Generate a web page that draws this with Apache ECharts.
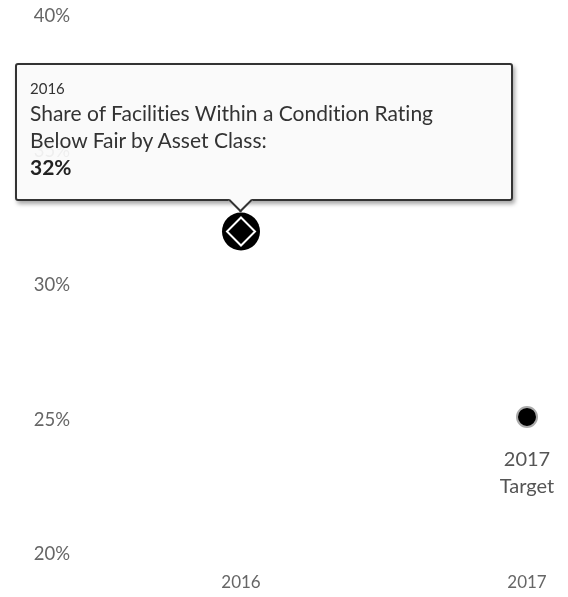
<!DOCTYPE html>
<html lang="en">
<head>
    <meta charset="UTF-8">
    <title>Facilities Condition</title>
    <script src="https://cdn.jsdelivr.net/npm/echarts@6/dist/echarts.min.js"></script>
    <style>
        html, body { margin: 0; padding: 0; background: #fff; }
        #chart_wrap { width: 568px; height: 597px; }
    </style>
</head>
<body>
<div id="chart_wrap"></div>
<script type="text/javascript">
// data
var years = ["2016", "2017"];
var shares = [32, 25.1];
var pointLabels = ["", "2017\nTarget"];
var yTicks = [20, 25, 30, 35, 40];
var seriesName = "Share of Facilities Within a Condition Rating\nBelow Fair by Asset Class:";
var tipIndex = 0;

var FONT = "Lato, 'Open Sans', sans-serif";

var chart = echarts.init(document.getElementById("chart_wrap"));

var mainData = shares.map(function (v, i) {
    if (i === tipIndex) {
        return { value: v, symbolSize: 38, itemStyle: { color: "#000", borderWidth: 0, opacity: 1 } };
    }
    return {
        value: v,
        symbolSize: 20,
        itemStyle: { color: "#000", borderColor: "#aaa", borderWidth: 2, opacity: 1 },
        label: { show: !!pointLabels[i], formatter: pointLabels[i] }
    };
});

// the diamond drawn inside the hovered point
var diamondData = shares.map(function (v, i) {
    return i === tipIndex ? v : null;
});

var option = {
    animation: false,
    grid: { left: 241, right: 41, top: 16.5, bottom: 43 },
    tooltip: {
        trigger: "item",
        triggerOn: "none",
        alwaysShowContent: true,
        transitionDuration: 0,
        backgroundColor: "rgba(250,250,250,0.92)",
        borderColor: "#333",
        borderWidth: 2,
        padding: [12, 13, 19, 13],
        extraCssText: "border-radius:3px;box-shadow:2px 3px 4px rgba(0,0,0,0.35);overflow:visible;font-variant-ligatures:none;",
        textStyle: { fontFamily: FONT, color: "#333" },
        position: function (point, params, dom, rect, size) {
            var pt = chart.convertToPixel({ seriesIndex: 0 }, [tipIndex, shares[tipIndex]]);
            return [pt[0] - 226, pt[1] - 30.5 - size.contentSize[1]];
        },
        formatter: function (p) {
            var name = seriesName.replace("\n", "<br/>");
            return '<div style="position:relative;width:468px;font-variant-ligatures:none;">' +
                '<div style="font-size:15px;line-height:22px;color:#333;">' + p.name + '</div>' +
                '<div style="font-size:21px;line-height:27px;color:#333;">' + name + '</div>' +
                '<div style="font-size:21px;line-height:27px;font-weight:bold;color:#222;">' + Math.round(p.value) + '%</div>' +
                '</div>' +
                '<div style="position:absolute;left:215px;bottom:-10px;width:17px;height:17px;box-sizing:border-box;' +
                'background:#fafafa;border-right:2px solid #333;border-bottom:2px solid #333;transform:rotate(45deg);"></div>';
        }
    },
    xAxis: {
        type: "category",
        data: years,
        boundaryGap: false,
        axisLine: { show: false },
        axisTick: { show: false },
        splitLine: { show: false },
        axisLabel: { margin: 20, fontFamily: FONT, fontSize: 17, color: "#666" }
    },
    yAxis: {
        type: "value",
        min: yTicks[0],
        max: yTicks[yTicks.length - 1],
        interval: 5,
        axisLine: { show: false },
        axisTick: { show: false },
        splitLine: { show: false },
        axisLabel: { margin: 171, fontFamily: FONT, fontSize: 18.5, color: "#666", formatter: "{value}%" }
    },
    series: [
        {
            name: seriesName,
            type: "scatter",
            data: mainData,
            symbol: "circle",
            label: {
                show: false,
                position: "bottom",
                distance: 18,
                fontFamily: FONT,
                fontSize: 20,
                lineHeight: 27,
                color: "#555",
                align: "center"
            },
            emphasis: { disabled: true },
            z: 2
        },
        {
            name: "marker",
            type: "scatter",
            data: diamondData,
            symbol: "diamond",
            symbolSize: 28,
            itemStyle: { color: "#000", borderColor: "#fff", borderWidth: 2, opacity: 1 },
            silent: true,
            tooltip: { show: false },
            emphasis: { disabled: true },
            z: 3
        }
    ]
};

chart.setOption(option);
chart.dispatchAction({ type: "showTip", seriesIndex: 0, dataIndex: tipIndex });
</script>
</body>
</html>
